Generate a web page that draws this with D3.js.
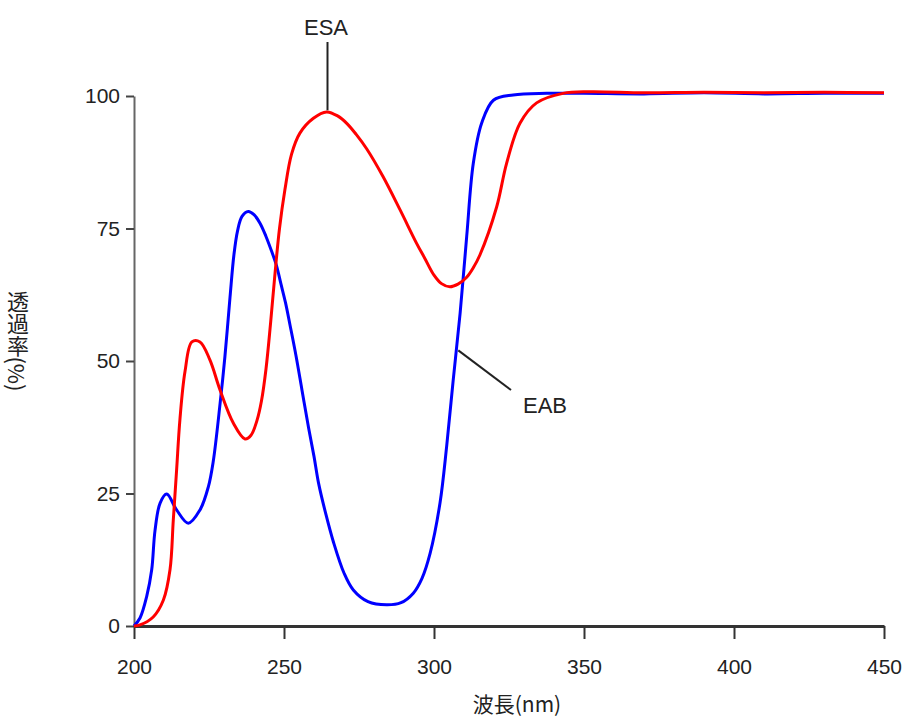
<!DOCTYPE html>
<html>
<head>
<meta charset="utf-8">
<script src="https://cdn.jsdelivr.net/npm/d3@7"></script>
<style>
body{margin:0;background:#fff}
text{font-family:"Liberation Sans",Arial,sans-serif}
</style>
</head>
<body>
<script>
// EAB (blue) spectrum: wavelength nm / transmittance %
const eabWave=[200,202,204.2,205.9,207,208.7,210.9,214.2,218.1,222,224.8,226.4,228.7,230.3,232,233.3,234.5,236,238.1,240,242,244,246,247.5,249,250.5,252,254,256,258,260,261.5,264,266.4,270,273.1,278,284.2,289,293.1,296,298.7,302,304.2,306.4,308.7,310.9,313.1,315.9,319.8,326.4,337.6,350,370,390,410,430,450]
const eabT=[0,1.5,5.5,10.6,18,23.2,24.9,21.9,19.4,21.9,26.3,31,42,50.8,62,70,74.5,77.3,78.2,77.6,76,73.5,70.5,68,64.5,61,56.8,51,44.5,38,32,27,21,16,10,6.8,4.6,4,4.4,6.2,9,13.7,23.2,33.8,46.4,59,73.5,87.3,94.9,99.2,100.2,100.5,100.5,100.4,100.6,100.4,100.5,100.5]

// ESA (red) spectrum
const esaWave=[200,202,206.4,209.8,212,213.1,214.2,215.3,217,219.3,222,225.3,228.7,233.1,237,239,241,242.5,244,245.5,247,248.5,250.3,252.5,255.3,259.8,264.2,268,271,274,277.6,283,288.7,294.2,297,300,302.5,305.3,308,310.9,313,315.3,320.9,324.2,328.7,334.2,343,352,370,390,410,430,450]
const esaT=[0,0.2,1.7,4.9,10.6,20,29.4,38.9,48,53.6,53.6,50.2,44.5,38.3,35.3,36,38.8,42.5,48.5,57,66.5,75,82.3,89,93,95.8,97,96.2,94.8,92.8,90,84.8,78.5,72.2,69.3,66.2,64.6,64,64.5,65.8,67.5,70,79.1,87.3,94.9,98.7,100.5,100.8,100.6,100.7,100.6,100.7,100.6]

const xTicks=[200,250,300,350,400,450]
const yTicks=[0,25,50,75,100]

const width=903
const height=720
const plotLeft=134, plotRight=884, plotTop=96, plotBottom=626

const svg=d3.select('body').append('svg').attr('width',width).attr('height',height)

const xScale=d3.scaleLinear().domain([200,450]).range([plotLeft,plotRight])
const yScale=d3.scaleLinear().domain([0,100]).range([plotBottom,plotTop])

const xAxis=d3.axisBottom(xScale).tickValues(xTicks).tickSize(13).tickPadding(20).tickSizeOuter(0)
const yAxis=d3.axisLeft(yScale).tickValues(yTicks).tickSize(8).tickPadding(6).tickSizeOuter(0)

const gy=svg.append('g').attr('transform',`translate(${plotLeft},0)`).call(yAxis)
gy.select('.domain').attr('stroke','#666').attr('stroke-width',2)
gy.selectAll('.tick line').attr('stroke','#444').attr('stroke-width',2)
gy.selectAll('.tick text').style('font-size','21px').attr('fill','#222')

const gx=svg.append('g').attr('transform',`translate(0,${plotBottom})`).call(xAxis)
gx.select('.domain').attr('stroke','#333').attr('stroke-width',3)
gx.selectAll('.tick line').attr('stroke','#333').attr('stroke-width',2)
gx.selectAll('.tick text').style('font-size','21px').attr('fill','#222')

const line=d3.line().x(d=>xScale(d[0])).y(d=>yScale(d[1])).curve(d3.curveCatmullRom)

svg.append('path').datum(eabWave.map((w,i)=>[w,eabT[i]]))
  .attr('d',line).attr('fill','none').attr('stroke','#0000ff').attr('stroke-width',3)
svg.append('path').datum(esaWave.map((w,i)=>[w,esaT[i]]))
  .attr('d',line).attr('fill','none').attr('stroke','#ff0000').attr('stroke-width',3)

// labels with leader lines
svg.append('line').attr('x1',xScale(264.5)).attr('x2',xScale(264.5)).attr('y1',42).attr('y2',yScale(97.3))
  .attr('stroke','#222').attr('stroke-width',2)
svg.append('text').attr('x',xScale(264)).attr('y',35).attr('text-anchor','middle')
  .style('font-size','22px').attr('fill','#222').text('ESA')

svg.append('line').attr('x1',xScale(308.1)).attr('y1',yScale(52)).attr('x2',511).attr('y2',390)
  .attr('stroke','#222').attr('stroke-width',2)
svg.append('text').attr('x',523).attr('y',413)
  .style('font-size','22px').attr('fill','#222').text('EAB')

svg.append('text').attr('x',517).attr('y',712).attr('text-anchor','middle')
  .style('font-size','21px').style('font-family','"Noto Sans CJK JP",sans-serif').attr('fill','#222')
  .text('波長(nm)')

svg.append('text').attr('x',18).attr('y',341).attr('text-anchor','middle')
  .style('writing-mode','vertical-rl')
  .style('font-size','22px').style('font-family','"Noto Sans CJK JP",sans-serif').attr('fill','#222')
  .text('透過率(%)')
</script>
</body>
</html>
